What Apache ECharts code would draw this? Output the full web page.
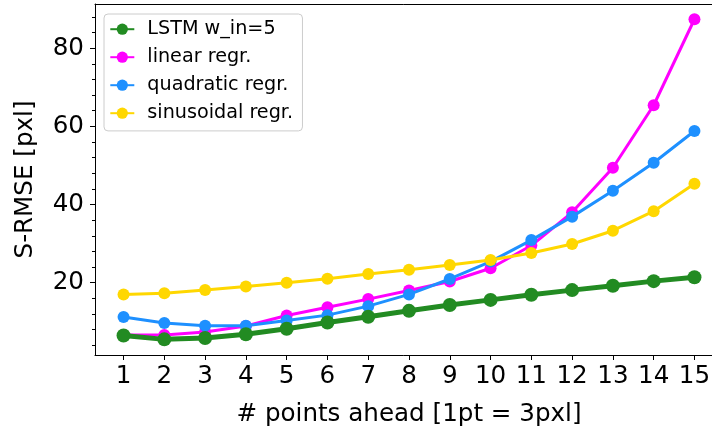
<!DOCTYPE html>
<html><head><meta charset="utf-8">
<script src="https://cdn.jsdelivr.net/npm/echarts@6/dist/echarts.min.js"></script>
<style>html,body{margin:0;padding:0;background:#fff}#c{width:712px;height:432px}</style>
</head><body><div id="c"></div>
<script>
const steps = [1,2,3,4,5,6,7,8,9,10,11,12,13,14,15];
const lstm = [6.5,5.5,5.85,6.8,8.2,9.8,11.3,12.8,14.3,15.6,16.9,18.1,19.2,20.4,21.4];
const linearRegr = [6.6,6.6,7.4,8.9,11.6,13.7,15.8,18.0,20.3,23.7,29.5,38.0,49.4,65.4,87.4];
const quadraticRegr = [11.2,9.7,9.0,9.0,10.3,11.7,14.0,17.0,20.95,25.4,30.9,36.9,43.5,50.7,58.8];
const sinusoidalRegr = [17.0,17.3,18.1,19.0,20.0,21.0,22.2,23.3,24.5,25.8,27.6,29.9,33.3,38.3,45.3];
const yTicks = [20,40,60,80];
const seriesNames = ['LSTM w_in=5','linear regr.','quadratic regr.','sinusoidal regr.'];

const font = 'DejaVu Sans';
const fs = 24.6;
const pair = arr => steps.map((s,i)=>[s, arr[i]]);
const chart = echarts.init(document.getElementById('c'), null, {renderer:'canvas'});
function mk(name, arr, color, lw, size, z){
  return {name, type:'line', data:pair(arr), z, xAxisIndex:0, yAxisIndex:0,
    symbol:'circle', symbolSize:size, showSymbol:true,
    itemStyle:{color, borderWidth:0, opacity:1},
    lineStyle:{color, width:lw},
    emphasis:{disabled:true}};
}
const option = {
  animation:false,
  backgroundColor:'#fff',
  textStyle:{fontFamily:font},
  grid:{left:95, top:4, width:628, height:351, show:false,
        containLabel:false, outerBoundsMode:'none'},
  legend:{
    orient:'vertical', left:104, top:14,
    padding:[5.7,9.4,8.2,5.3], itemGap:9, itemWidth:24, itemHeight:14,
    borderColor:'#cccccc', borderWidth:1, borderRadius:4, backgroundColor:'rgba(255,255,255,0.8)',
    textStyle:{fontSize:19.2, color:'#000', fontFamily:font, padding:[0,0,0,8]},
    data:seriesNames
  },
  xAxis:[{
    type:'value', min:0.3, max:15.7, minInterval:1, maxInterval:1,
    splitLine:{show:false},
    axisLine:{onZero:false, lineStyle:{color:'#000', width:1}},
    axisTick:{show:true, length:5, lineStyle:{color:'#000', width:1}, customValues:steps},
    axisLabel:{customValues:steps, color:'#000', fontSize:fs, fontFamily:font, margin:9},
    name:'# points ahead [1pt = 3pxl]', nameLocation:'middle', nameGap:47,
    nameTextStyle:{color:'#000', fontSize:fs, fontFamily:font}
  },{
    type:'value', position:'top', min:0.3, max:15.7,
    splitLine:{show:false},
    axisLine:{show:true, onZero:false, lineStyle:{color:'#000', width:1}},
    axisTick:{show:false}, axisLabel:{show:false}
  }],
  yAxis:{
    type:'value', min:1.5, max:91.3, minInterval:20, maxInterval:20,
    splitLine:{show:false},
    axisLine:{show:true, onZero:false, lineStyle:{color:'#000', width:1}},
    axisTick:{show:true, length:5, lineStyle:{color:'#000', width:1}, customValues:yTicks},
    minorTick:{show:true, splitNumber:5, length:3, lineStyle:{color:'#000', width:1}},
    minorSplitLine:{show:false},
    axisLabel:{customValues:yTicks, color:'#000', fontSize:fs, fontFamily:font, margin:11},
    name:'S-RMSE [pxl]', nameLocation:'middle', nameGap:57,
    nameTextStyle:{color:'#000', fontSize:fs, fontFamily:font}
  },
  series:[
    mk(seriesNames[0], lstm, '#228B22', 5, 14, 5),
    mk(seriesNames[1], linearRegr, '#FF00FF', 3, 12, 2),
    mk(seriesNames[2], quadraticRegr, '#1E90FF', 3, 12, 3),
    mk(seriesNames[3], sinusoidalRegr, '#FFD700', 3, 12, 4)
  ]
};
chart.setOption(option);
</script></body></html>
